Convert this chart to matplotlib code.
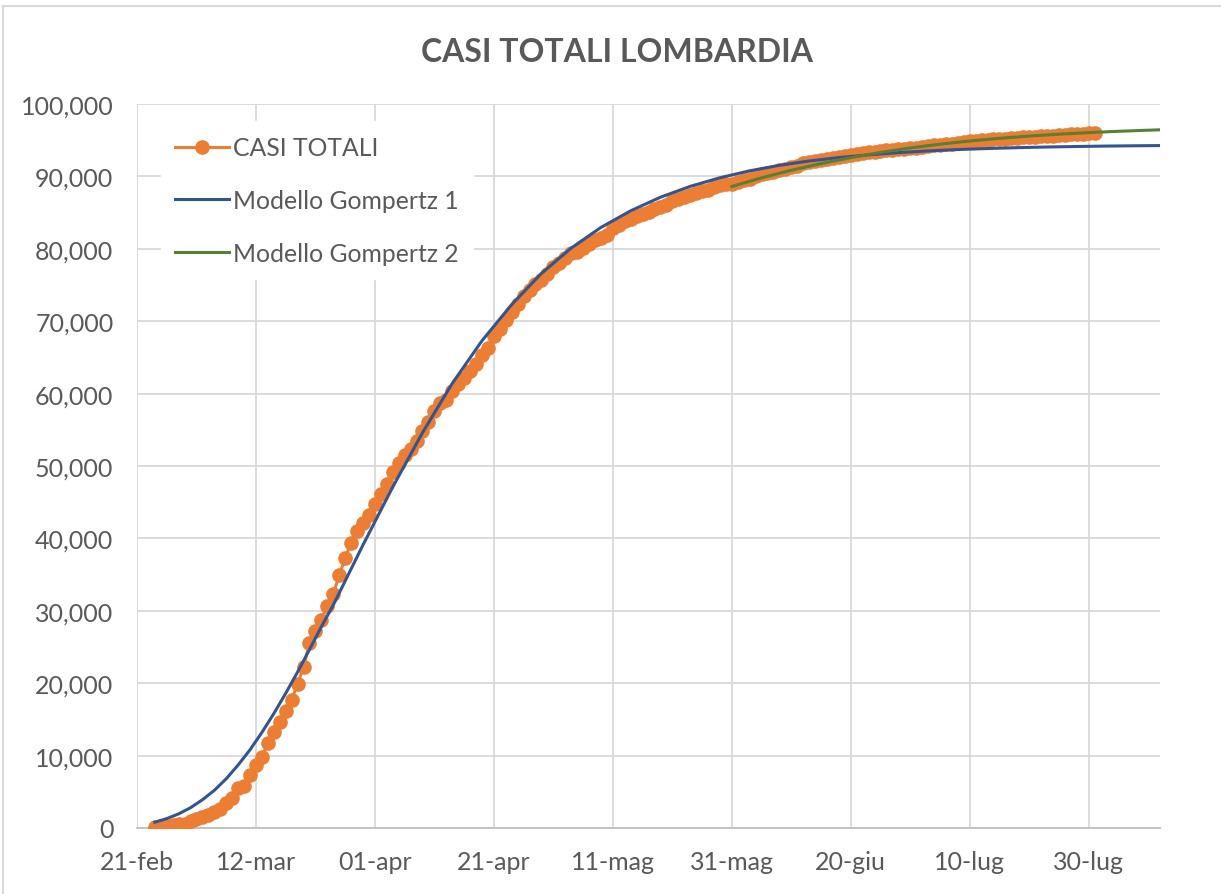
import numpy as np
import matplotlib
matplotlib.use("Agg")
import matplotlib.pyplot as plt
from matplotlib.lines import Line2D
from matplotlib.ticker import FuncFormatter

plt.rcParams['font.family'] = ['Lato', 'DejaVu Sans']

# Casi totali Lombardia, giornalieri dal 24-feb al 31-lug (giorno 0 = 21-feb)
casi_feb = [172, 240, 258, 403, 531, 615]
casi_mar = [984, 1254, 1520, 1820, 2251, 2612, 3420, 4189, 5469, 5791,
            7280, 8725, 9820, 11685, 13272, 14649, 16220, 17713, 19884, 22264,
            25515, 27206, 28761, 30703, 32346, 34889, 37298, 39415, 41007, 42161,
            43208]
casi_apr = [44773, 46065, 47520, 49118, 50455, 51534, 52325, 53414, 54802, 56048,
            57592, 58729, 59052, 60314, 61326, 62153, 63094, 64135, 65381, 66236,
            67931, 68904, 70165, 71256, 72399, 73479, 74348, 75134, 75732, 76469]
casi_mag = [77528, 78105, 78677, 79369, 79520, 80089, 80723, 81225, 81507, 81871,
            82904, 83298, 83820, 84119, 84518, 84871, 85019, 85481, 85775, 86091,
            86539, 86825, 87147, 87417, 87699, 87968, 88183, 88537, 88758, 88968,
            89018]
casi_giu = [89205, 89526, 89665, 90070, 90389, 90482, 90627, 90834, 91084, 91250,
            91450, 91800, 91950, 92100, 92280, 92420, 92600, 92700, 92800, 92900,
            93080, 93200, 93330, 93420, 93500, 93580, 93700, 93790, 93839, 93901]
casi_lug = [93990, 94080, 94170, 94270, 94360, 94450, 94540, 94640, 94740, 94840,
            94920, 94990, 95050, 95110, 95180, 95230, 95290, 95340, 95390, 95440,
            95490, 95540, 95590, 95640, 95690, 95740, 95790, 95840, 95890, 95950,
            96010]
casi_totali = casi_feb + casi_mar + casi_apr + casi_mag + casi_giu + casi_lug
giorni_casi = list(range(3, 3 + len(casi_totali)))

# Modello Gompertz 1
giorni_g1 = [3, 5, 7, 9, 11, 13, 15, 17, 19, 21, 23, 25, 27, 29, 31, 33, 38, 43,
             48, 53, 58, 63, 68, 73, 78, 83, 88, 93, 98, 103, 108, 113, 118, 123,
             128, 133, 138, 143, 148, 153, 158, 163, 168, 172]
gompertz1 = [800, 1300, 1950, 2800, 3900, 5200, 6800, 8700, 10800, 13200,
             15800, 18600, 21550, 24650, 27800, 30800, 39100, 47100, 54600,
             61400, 67300, 72300, 76600, 80100, 82950, 85250, 87120, 88620, 89810,
             90770, 91530, 92130, 92600, 92980, 93280, 93520, 93710, 93850, 93970,
             94060, 94130, 94190, 94230, 94260]

# Modello Gompertz 2 (dal 31-mag)
giorni_g2 = [100, 105, 110, 115, 120, 125, 130, 135, 140, 145, 150, 155, 160,
             165, 170, 172]
gompertz2 = [88600, 89800, 90850, 91770, 92590, 93310, 93930, 94450, 94890,
             95260, 95570, 95830, 96050, 96230, 96380, 96435]

tick_giorni = [0, 20, 40, 60, 80, 100, 120, 140, 160]
tick_etichette = ['21-feb', '12-mar', '01-apr', '21-apr', '11-mag', '31-mag',
                  '20-giu', '10-lug', '30-lug']

grigio_testo = '#595959'
grigio_griglia = '#d9d9d9'

fig = plt.figure(figsize=(12.21, 8.95), dpi=100)
ax = fig.add_axes([137 / 1221, 1 - 829 / 895, (1160 - 137) / 1221, (829 - 105) / 895])

ax.plot(giorni_casi, casi_totali, color='#ED7D31', lw=2.2, marker='o',
        markersize=9.5, label='CASI TOTALI', zorder=3)
ax.plot(giorni_g1, gompertz1, color='#2F5597', lw=2.2, label='Modello Gompertz 1', zorder=4)
ax.plot(giorni_g2, gompertz2, color='#548235', lw=2.2, label='Modello Gompertz 2', zorder=5)

ax.set_xlim(0, 172)
ax.set_ylim(0, 100000)
ax.set_xticks(tick_giorni)
ax.set_xticklabels(tick_etichette)
ax.set_yticks(range(0, 100001, 10000))
ax.yaxis.set_major_formatter(FuncFormatter(lambda v, p: f'{int(v):,}'))
ax.tick_params(length=0, labelsize=18, colors=grigio_testo)
ax.tick_params(axis='x', pad=16)
ax.tick_params(axis='y', pad=17)
ax.grid(True, color=grigio_griglia, lw=1.3)
ax.set_axisbelow(True)
for s in ['top', 'right', 'left']:
    ax.spines[s].set_visible(False)
ax.spines['bottom'].set_color('#bfbfbf')
ax.spines['bottom'].set_linewidth(1.3)

leg = ax.legend(loc='upper left', bbox_to_anchor=(0.011, 0.993), frameon=True,
                fontsize=17.8, handlelength=2.15, labelspacing=1.2, handletextpad=0.16,
                borderpad=0.6, facecolor='white', edgecolor='white', framealpha=1)
for t in leg.get_texts():
    t.set_color(grigio_testo)

fig.text(0.505, 1 - 53 / 895, 'CASI TOTALI LOMBARDIA', ha='center', va='center',
         fontsize=23, fontweight='bold', color=grigio_testo)

# bordo dell'area del grafico
fig.add_artist(Line2D([3 / 1221, 1], [1 - 7 / 895, 1 - 7 / 895], color=grigio_griglia, lw=1.5))
fig.add_artist(Line2D([3 / 1221, 3 / 1221], [0, 1 - 7 / 895], color=grigio_griglia, lw=1.5))

fig.savefig('out.png', dpi=100)
